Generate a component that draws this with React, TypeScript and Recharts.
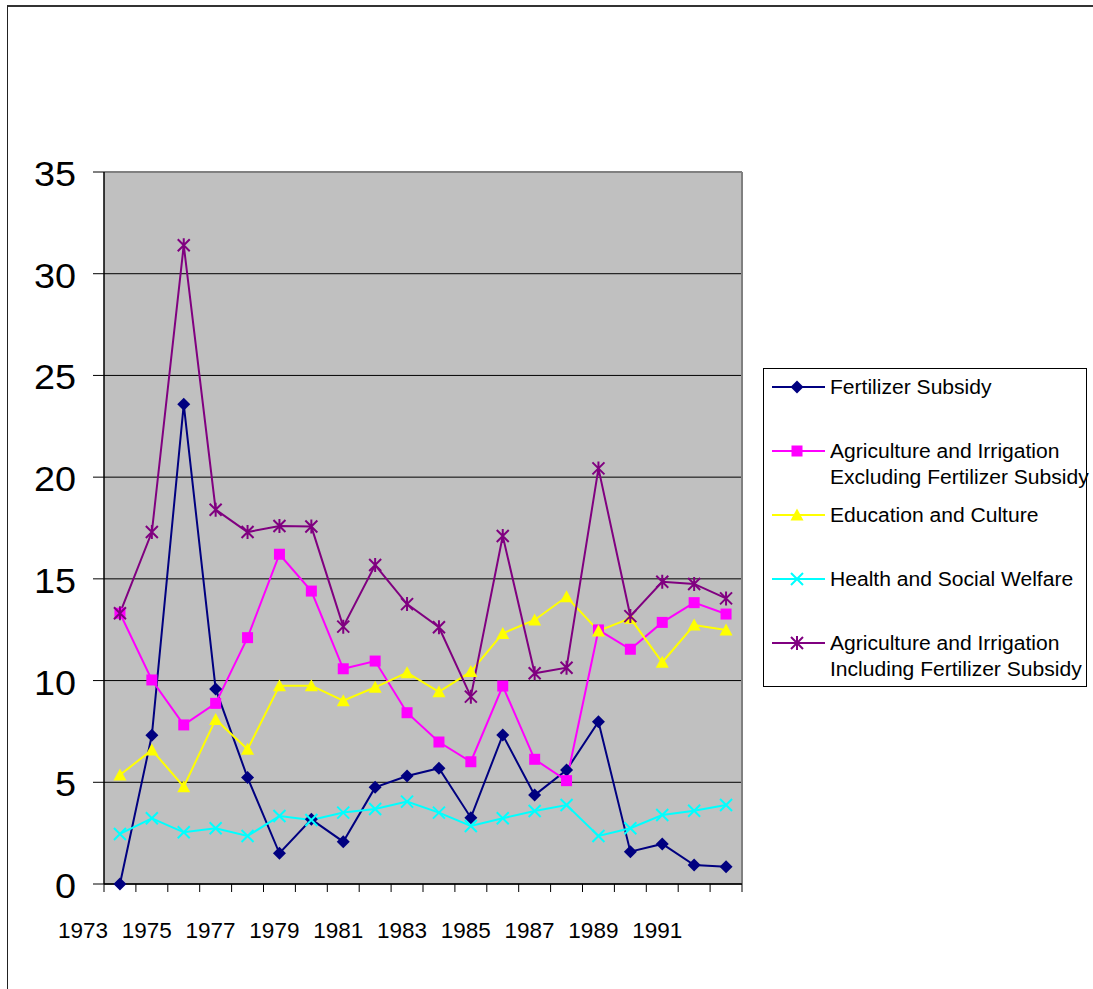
import React from 'react';
import {
  LineChart,
  Line,
  XAxis,
  YAxis,
  CartesianGrid,
  ReferenceLine,
} from 'recharts';

// years on the category axis
const years = [
  1974, 1975, 1976, 1977, 1978, 1979, 1980, 1981, 1982, 1983,
  1984, 1985, 1986, 1987, 1988, 1989, 1990, 1991, 1992, 1993,
];

const fertilizerSubsidy = [
  0, 7.31, 23.58, 9.59, 5.23, 1.51, 3.18, 2.08, 4.75, 5.31,
  5.69, 3.26, 7.32, 4.37, 5.6, 7.98, 1.59, 1.97, 0.93, 0.85,
];
const agriExcluding = [
  13.31, 10.03, 7.82, 8.88, 12.11, 16.21, 14.4, 10.58, 10.96, 8.42,
  6.98, 6.01, 9.73, 6.13, 5.08, 12.49, 11.54, 12.86, 13.83, 13.27,
];
const educationCulture = [
  5.36, 6.59, 4.78, 8.09, 6.62, 9.75, 9.75, 9.01, 9.67, 10.39,
  9.45, 10.44, 12.32, 12.98, 14.12, 12.44, 13.06, 10.9, 12.73, 12.49,
];
const healthWelfare = [
  2.46, 3.23, 2.54, 2.74, 2.36, 3.34, 3.15, 3.51, 3.69, 4.05,
  3.51, 2.85, 3.23, 3.59, 3.88, 2.36, 2.74, 3.39, 3.6, 3.88,
];
const agriIncluding = [
  13.31, 17.3, 31.4, 18.4, 17.3, 17.6, 17.57, 12.65, 15.68, 13.76,
  12.62, 9.21, 17.11, 10.36, 10.63, 20.43, 13.17, 14.86, 14.75, 14.04,
];

// labels printed under the x axis
const yearLabels = [1973, 1975, 1977, 1979, 1981, 1983, 1985, 1987, 1989, 1991];
const yTicks = [0, 5, 10, 15, 20, 25, 30, 35];

type Shape = 'diamond' | 'square' | 'triangle' | 'cross' | 'star';

const series: { key: string; lines: string[]; color: string; shape: Shape }[] = [
  { key: 'fert', lines: ['Fertilizer Subsidy'], color: '#000080', shape: 'diamond' },
  {
    key: 'excl',
    lines: ['Agriculture and Irrigation', 'Excluding Fertilizer Subsidy'],
    color: '#FF00FF',
    shape: 'square',
  },
  { key: 'edu', lines: ['Education and Culture'], color: '#FFFF00', shape: 'triangle' },
  { key: 'health', lines: ['Health and Social Welfare'], color: '#00FFFF', shape: 'cross' },
  {
    key: 'incl',
    lines: ['Agriculture and Irrigation', 'Including Fertilizer Subsidy'],
    color: '#800080',
    shape: 'star',
  },
];

const data = years.map((year, i) => ({
  year,
  fert: fertilizerSubsidy[i],
  excl: agriExcluding[i],
  edu: educationCulture[i],
  health: healthWelfare[i],
  incl: agriIncluding[i],
}));

// tick marks sit on the boundaries between years
const boundaryTicks = [...years.map((y) => y - 0.5), years[years.length - 1] + 0.5];

const FONT = '"Liberation Sans", Arial, sans-serif';

const Marker = ({ shape, cx, cy, color }: { shape: Shape; cx: number; cy: number; color: string }) => {
  switch (shape) {
    case 'diamond':
      return <polygon points={`${cx},${cy - 6.5} ${cx + 6.5},${cy} ${cx},${cy + 6.5} ${cx - 6.5},${cy}`} fill={color} />;
    case 'square':
      return <rect x={cx - 5.5} y={cy - 5.5} width={11} height={11} fill={color} />;
    case 'triangle':
      return <polygon points={`${cx},${cy - 6.5} ${cx + 6.5},${cy + 5.5} ${cx - 6.5},${cy + 5.5}`} fill={color} />;
    case 'cross':
      return (
        <path
          d={`M${cx - 6},${cy - 6}L${cx + 6},${cy + 6}M${cx + 6},${cy - 6}L${cx - 6},${cy + 6}`}
          stroke={color}
          strokeWidth={2}
        />
      );
    default:
      return (
        <path
          d={`M${cx - 6},${cy - 6}L${cx + 6},${cy + 6}M${cx + 6},${cy - 6}L${cx - 6},${cy + 6}M${cx},${cy - 7}L${cx},${cy + 7}`}
          stroke={color}
          strokeWidth={2}
        />
      );
  }
};

const YearTick = (props: any) => {
  const { x, y, payload } = props;
  const year = payload.value - 0.5;
  if (!yearLabels.includes(year)) return <g />;
  return (
    <text x={x - 21} y={y + 44} textAnchor='middle' fontSize={22.5} fontFamily={FONT} fill='#000'>
      {year}
    </text>
  );
};

const ValueTick = (props: any) => {
  const { x, y, payload } = props;
  return (
    <g transform={`translate(${x},${y}) scale(1.08,1)`}>
      <text textAnchor='end' dy={14} fontSize={35} fontFamily={FONT} fill='#000'>
        {payload.value}
      </text>
    </g>
  );
};

const ChartLegend = () => (
  <div
    style={{
      position: 'absolute',
      left: 763,
      top: 368,
      width: 324,
      height: 319,
      boxSizing: 'border-box',
      border: '1px solid #000',
      background: '#fff',
      fontFamily: FONT,
    }}
  >
    {series.map((s, i) => (
      <React.Fragment key={s.key}>
        <svg
          width={60}
          height={20}
          style={{ position: 'absolute', left: 4, top: 8 + i * 64 }}
        >
          <line x1={4} y1={10} x2={57} y2={10} stroke={s.color} strokeWidth={2} />
          <Marker shape={s.shape} cx={29} cy={10} color={s.color} />
        </svg>
        <div
          style={{
            position: 'absolute',
            left: 65.5,
            top: 5 + i * 64,
            fontSize: 19.5,
            lineHeight: '26px',
            whiteSpace: 'nowrap',
            transform: 'scaleX(1.08)',
            transformOrigin: 'left',
            color: '#000',
          }}
        >
          {s.lines.map((l) => (
            <div key={l}>{l}</div>
          ))}
        </div>
      </React.Fragment>
    ))}
  </div>
);

export default function App() {
  return (
    <div style={{ position: 'absolute', left: 0, top: 0, width: 1093, height: 989, background: '#fff', overflow: 'hidden' }}>
      <div
        style={{
          position: 'absolute',
          left: 7,
          top: 5,
          width: 1200,
          height: 1200,
          borderTop: '2px solid #333',
          borderLeft: '1px solid #222',
        }}
      />
      <div style={{ position: 'absolute', left: 0, top: 0 }}>
        <LineChart
          width={1093}
          height={989}
          data={data}
          margin={{ top: 172, right: 351, bottom: 45, left: 0 }}
        >
          <CartesianGrid
            vertical={false}
            stroke='#000'
            strokeWidth={1}
            fill='#C0C0C0'
            fillOpacity={1}
          />
          <XAxis
            dataKey='year'
            type='number'
            domain={[1973.5, 1993.5]}
            ticks={boundaryTicks}
            interval={0}
            height={60}
            tickSize={8}
            tickMargin={2}
            axisLine={{ stroke: '#000', strokeWidth: 1.5 }}
            tickLine={{ stroke: '#000' }}
            tick={<YearTick />}
          />
          <YAxis
            domain={[0, 35]}
            ticks={yTicks}
            interval={0}
            width={104}
            tickSize={11}
            tickMargin={17}
            axisLine={{ stroke: '#000', strokeWidth: 1.5 }}
            tickLine={{ stroke: '#000' }}
            tick={<ValueTick />}
          />
          <ReferenceLine y={35} stroke='#808080' strokeWidth={2} />
          <ReferenceLine x={1993.5} stroke='#808080' strokeWidth={2} />
          {series.map((s) => (
            <Line
              key={s.key}
              type='linear'
              dataKey={s.key}
              name={s.lines.join(' ')}
              stroke={s.color}
              strokeWidth={2}
              isAnimationActive={false}
              activeDot={false}
              dot={(p: any) => (
                <Marker key={`${s.key}-${p.index}`} shape={s.shape} cx={p.cx} cy={p.cy} color={s.color} />
              )}
            />
          ))}
        </LineChart>
      </div>
      <ChartLegend />
    </div>
  );
}
